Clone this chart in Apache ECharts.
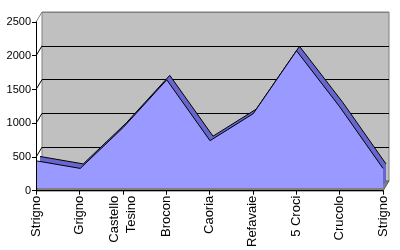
<!DOCTYPE html>
<html><head><meta charset="utf-8">
<script src="https://cdn.jsdelivr.net/npm/echarts@6/dist/echarts.min.js"></script>
<style>html,body{margin:0;padding:0;background:#fff}#c{width:400px;height:250px}</style>
</head><body><div id="c"></div>
<script>
// ---- data ----
const categories = ['Strigno','Grigno','Castello\nTesino','Brocon','Caoria','Refavaie','5 Croci','Crucolo','Strigno'];
const altitudes = [400, 290, 900, 1600, 700, 1100, 2030, 1200, 290];
const yMin = 0, yMax = 2500, yStep = 500;

// ---- layout (3D box faked with offset grids) ----
const H = 169;
const FRONT = {left: 36, top: 22, width: 347};   // axis plane
const BACK  = {left: 42, top: 12, width: 347};   // back wall
const AREA  = {left: 37, top: 19, width: 346};   // front face of area
const RIB   = {left: 40, top: 14.5, width: 346}; // back face of area

const font = 'Liberation Sans, Arial, sans-serif';
function grid(g, extra) { return Object.assign({left: g.left, top: g.top, width: g.width, height: H}, extra || {}); }
function hiddenX(i) { return {type: 'category', gridIndex: i, data: categories, boundaryGap: false, show: false}; }
function hiddenY(i) { return {type: 'value', gridIndex: i, min: yMin, max: yMax, interval: yStep, show: false}; }

const frontBottom = FRONT.top + H, backBottom = BACK.top + H;
const graphics = [{
  type: 'polygon', z: 1, silent: true,
  shape: {points: [[FRONT.left, frontBottom], [FRONT.left + FRONT.width, frontBottom],
                   [BACK.left + BACK.width, backBottom], [BACK.left, backBottom]]},
  style: {fill: '#808080', stroke: '#606060', lineWidth: 1}
}];
for (let v = yStep; v <= yMax; v += yStep) {
  const dy = v / yMax * H;
  graphics.push({type: 'line', z: 1, silent: true,
    shape: {x1: FRONT.left, y1: frontBottom - dy, x2: BACK.left, y2: backBottom - dy},
    style: {stroke: v === yMax ? '#808080' : '#000', lineWidth: 1}});
}

const chart = echarts.init(document.getElementById('c'), null, {renderer: 'canvas'});
chart.setOption({
  animation: false,
  backgroundColor: '#fff',
  textStyle: {fontFamily: font},
  grid: [
    grid(BACK, {show: true, backgroundColor: '#C0C0C0', borderColor: '#808080', borderWidth: 1}),
    grid(RIB), grid(AREA), grid(FRONT)
  ],
  xAxis: [hiddenX(0), hiddenX(1), hiddenX(2), {
    type: 'category', gridIndex: 3, data: categories, boundaryGap: false, z: 10,
    axisLine: {show: true, lineStyle: {color: '#000', width: 1}},
    axisTick: {show: true, length: 4, alignWithLabel: true, lineStyle: {color: '#000'}},
    axisLabel: {rotate: 90, interval: 0, color: '#000', fontSize: 13, fontFamily: font, margin: 5, lineHeight: 17}
  }],
  yAxis: [{
    type: 'value', gridIndex: 0, min: yMin, max: yMax, interval: yStep,
    axisLine: {show: false}, axisTick: {show: false}, axisLabel: {show: false},
    splitLine: {show: true, lineStyle: {color: ['#000', '#000', '#000', '#000', '#000', '#808080'], width: 1}}
  }, hiddenY(1), hiddenY(2), {
    type: 'value', gridIndex: 3, min: yMin, max: yMax, interval: yStep, z: 10,
    axisLine: {show: true, lineStyle: {color: '#000', width: 1}},
    axisTick: {show: true, length: 4, lineStyle: {color: '#000'}},
    axisLabel: {color: '#000', fontSize: 11, fontFamily: font, margin: 5, formatter: v => String(v)},
    splitLine: {show: false}
  }],
  series: [{
    type: 'line', xAxisIndex: 1, yAxisIndex: 1, data: altitudes, symbol: 'none', z: 3,
    lineStyle: {color: '#000', width: 1}, areaStyle: {color: '#6666CC', opacity: 1}
  }, {
    type: 'line', xAxisIndex: 2, yAxisIndex: 2, data: altitudes, symbol: 'none', z: 4,
    lineStyle: {color: '#000', width: 1}, areaStyle: {color: '#9999FF', opacity: 1}
  }],
  graphic: graphics
});
</script></body></html>
